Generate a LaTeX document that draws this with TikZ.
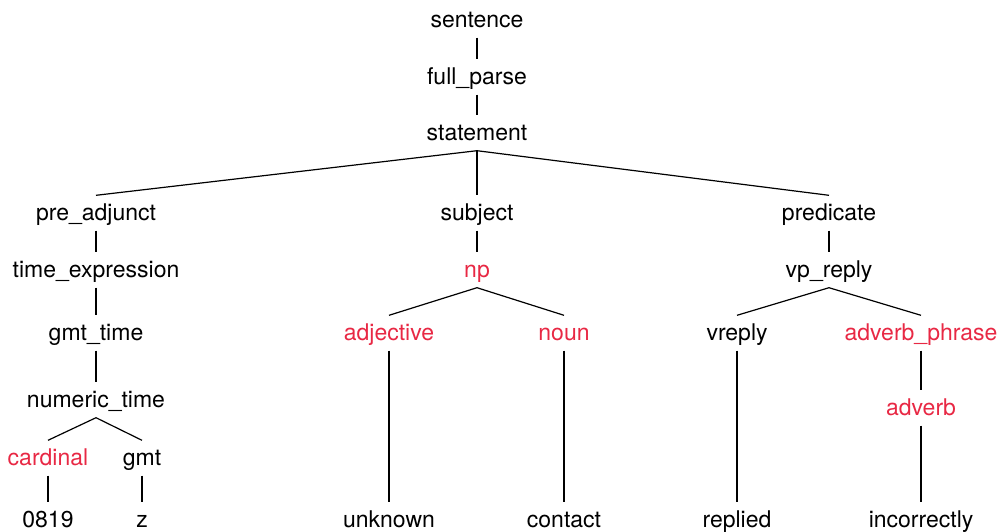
\documentclass[tikz,border=0pt]{standalone}
\usepackage{fontspec}
\setmainfont{TeX Gyre Heros}
\usepackage{tikz}
\definecolor{termred}{RGB}{232,40,68}
\tikzset{
	word/.style={inner xsep=0pt, inner ysep=7pt, text height=18pt, text depth=3pt, font=\fontsize{23}{27}\selectfont},
	rule/.style={word, text=termred},
	branch/.style={line width=1.2pt, color=black}
}

\begin{document}
\begin{tikzpicture}[x=1pt, y=-1pt]
		%%%%% START %%%%%
		\useasboundingbox (0, 0) rectangle (999, 531);
		
		\node[word] (sentence) at (477, 20) {sentence};
		\node[word] (fullparse) at (477, 77) {full\_parse};
		\node[word] (statement) at (477, 133) {statement};
		
		\node[word] (preadjunct) at (96, 213) {pre\_adjunct};
		\node[word] (subject) at (477, 213) {subject};
		\node[word] (predicate) at (829, 213) {predicate};
		
		\node[word] (timeexpr) at (96, 270) {time\_expression};
		\node[word] (gmttime) at (96, 333) {gmt\_time};
		\node[word] (numtime) at (96, 400) {numeric\_time};
		\node[rule] (cardinal) at (48, 458) {cardinal};
		\node[word] (gmt) at (142, 458) {gmt};
		\node[word] (num) at (48, 520) {0819};
		\node[word] (zulu) at (142, 520) {z};
		
		\node[rule] (np) at (477, 270) {np};
		\node[rule] (adjective) at (389, 333) {adjective};
		\node[rule] (noun) at (564, 333) {noun};
		\node[word] (unknown) at (389, 520) {unknown};
		\node[word] (contact) at (564, 520) {contact};
		
		\node[word] (vpreply) at (829, 270) {vp\_reply};
		\node[word] (vreply) at (737, 333) {vreply};
		\node[rule] (advphrase) at (921, 333) {adverb\_phrase};
		\node[rule] (adverb) at (921, 408) {adverb};
		\node[word] (replied) at (737, 520) {replied};
		\node[word] (incorrectly) at (921, 520) {incorrectly};
		
		\draw[branch] (sentence) -- (fullparse);
		\draw[branch] (fullparse) -- (statement);
		\draw[branch] (statement.south) -- (preadjunct.north);
		\draw[branch] (statement.south) -- (subject.north);
		\draw[branch] (statement.south) -- (predicate.north);
		
		\draw[branch] (preadjunct) -- (timeexpr);
		\draw[branch] (timeexpr) -- (gmttime);
		\draw[branch] (gmttime) -- (numtime);
		\draw[branch] (numtime.south) -- (cardinal.north);
		\draw[branch] (numtime.south) -- (gmt.north);
		\draw[branch] (cardinal) -- (num);
		\draw[branch] (gmt) -- (zulu);
		
		\draw[branch] (subject) -- (np);
		\draw[branch] (np.south) -- (adjective.north);
		\draw[branch] (np.south) -- (noun.north);
		\draw[branch] (adjective) -- (unknown);
		\draw[branch] (noun) -- (contact);
		
		\draw[branch] (predicate) -- (vpreply);
		\draw[branch] (vpreply.south) -- (vreply.north);
		\draw[branch] (vpreply.south) -- (advphrase.north);
		\draw[branch] (vreply) -- (replied);
		\draw[branch] (advphrase) -- (adverb);
		\draw[branch] (adverb) -- (incorrectly);
		
		%%%%% END %%%%%
	\end{tikzpicture}
\end{document}
